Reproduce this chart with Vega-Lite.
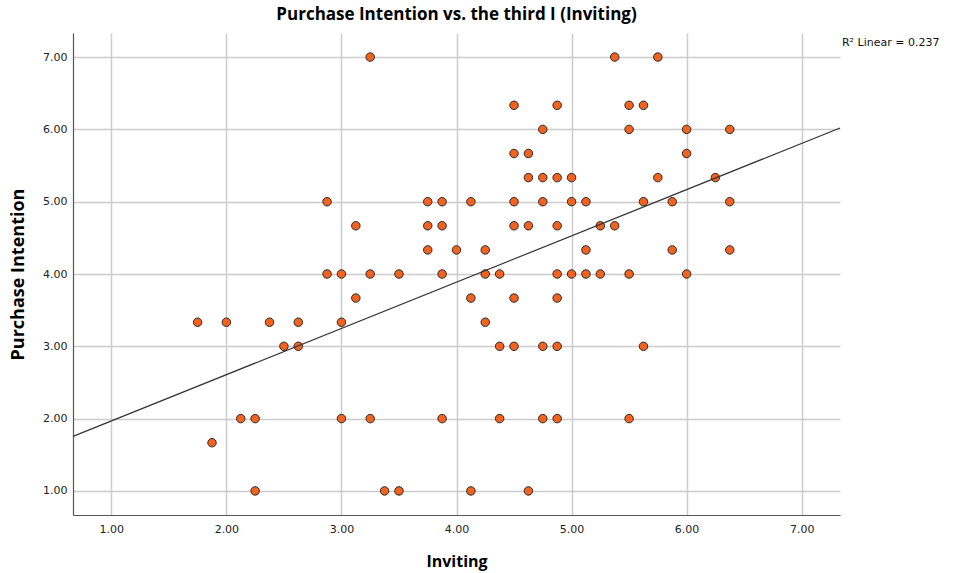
{
  "$schema": "https://vega.github.io/schema/vega-lite/v6.json",
  "width": 767,
  "height": 482,
  "autosize": "none",
  "padding": {"left": 73, "top": 33, "right": 113, "bottom": 58},
  "background": "white",
  "title": {"text": "Purchase Intention vs. the third I (Inviting)", "font": "Open Sans", "fontSize": 17, "fontWeight": "bold", "color": "#000000", "anchor": "middle", "offset": 9},
  "config": {
    "view": {"stroke": null},
    "axis": {"labelFont": "DejaVu Sans", "labelFontSize": 11, "labelColor": "#222222", "titleFont": "Open Sans", "titleFontSize": 16, "titleFontWeight": "bold", "titleColor": "#000000", "grid": true, "gridColor": "#cccccc", "gridWidth": 1.5, "ticks": false, "domainColor": "#555555", "domainWidth": 1.2}
  },
  "datasets": {
    "points": [
      {"inviting": 3.25, "purchase": 7}, {"inviting": 5.375, "purchase": 7}, {"inviting": 5.75, "purchase": 7},
      {"inviting": 4.5, "purchase": 6.333}, {"inviting": 4.875, "purchase": 6.333}, {"inviting": 5.5, "purchase": 6.333}, {"inviting": 5.625, "purchase": 6.333},
      {"inviting": 4.75, "purchase": 6}, {"inviting": 5.5, "purchase": 6}, {"inviting": 6.0, "purchase": 6}, {"inviting": 6.375, "purchase": 6},
      {"inviting": 4.5, "purchase": 5.667}, {"inviting": 4.625, "purchase": 5.667}, {"inviting": 6.0, "purchase": 5.667},
      {"inviting": 4.625, "purchase": 5.333}, {"inviting": 4.75, "purchase": 5.333}, {"inviting": 4.875, "purchase": 5.333}, {"inviting": 5.0, "purchase": 5.333}, {"inviting": 5.75, "purchase": 5.333}, {"inviting": 6.25, "purchase": 5.333},
      {"inviting": 2.875, "purchase": 5}, {"inviting": 3.75, "purchase": 5}, {"inviting": 3.875, "purchase": 5}, {"inviting": 4.125, "purchase": 5}, {"inviting": 4.5, "purchase": 5}, {"inviting": 4.75, "purchase": 5}, {"inviting": 5.0, "purchase": 5}, {"inviting": 5.125, "purchase": 5}, {"inviting": 5.625, "purchase": 5}, {"inviting": 5.875, "purchase": 5}, {"inviting": 6.375, "purchase": 5},
      {"inviting": 3.125, "purchase": 4.667}, {"inviting": 3.75, "purchase": 4.667}, {"inviting": 3.875, "purchase": 4.667}, {"inviting": 4.5, "purchase": 4.667}, {"inviting": 4.625, "purchase": 4.667}, {"inviting": 4.875, "purchase": 4.667}, {"inviting": 5.25, "purchase": 4.667}, {"inviting": 5.375, "purchase": 4.667},
      {"inviting": 3.75, "purchase": 4.333}, {"inviting": 4.0, "purchase": 4.333}, {"inviting": 4.25, "purchase": 4.333}, {"inviting": 5.125, "purchase": 4.333}, {"inviting": 5.875, "purchase": 4.333}, {"inviting": 6.375, "purchase": 4.333},
      {"inviting": 2.875, "purchase": 4}, {"inviting": 3.0, "purchase": 4}, {"inviting": 3.25, "purchase": 4}, {"inviting": 3.5, "purchase": 4}, {"inviting": 3.875, "purchase": 4}, {"inviting": 4.25, "purchase": 4}, {"inviting": 4.375, "purchase": 4}, {"inviting": 4.875, "purchase": 4}, {"inviting": 5.0, "purchase": 4}, {"inviting": 5.125, "purchase": 4}, {"inviting": 5.25, "purchase": 4}, {"inviting": 5.5, "purchase": 4}, {"inviting": 6.0, "purchase": 4},
      {"inviting": 3.125, "purchase": 3.667}, {"inviting": 4.125, "purchase": 3.667}, {"inviting": 4.5, "purchase": 3.667}, {"inviting": 4.875, "purchase": 3.667},
      {"inviting": 1.75, "purchase": 3.333}, {"inviting": 2.0, "purchase": 3.333}, {"inviting": 2.375, "purchase": 3.333}, {"inviting": 2.625, "purchase": 3.333}, {"inviting": 3.0, "purchase": 3.333}, {"inviting": 4.25, "purchase": 3.333},
      {"inviting": 2.5, "purchase": 3}, {"inviting": 2.625, "purchase": 3}, {"inviting": 4.375, "purchase": 3}, {"inviting": 4.5, "purchase": 3}, {"inviting": 4.75, "purchase": 3}, {"inviting": 4.875, "purchase": 3}, {"inviting": 5.625, "purchase": 3},
      {"inviting": 2.125, "purchase": 2}, {"inviting": 2.25, "purchase": 2}, {"inviting": 3.0, "purchase": 2}, {"inviting": 3.25, "purchase": 2}, {"inviting": 3.875, "purchase": 2}, {"inviting": 4.375, "purchase": 2}, {"inviting": 4.75, "purchase": 2}, {"inviting": 4.875, "purchase": 2}, {"inviting": 5.5, "purchase": 2},
      {"inviting": 1.875, "purchase": 1.667},
      {"inviting": 2.25, "purchase": 1}, {"inviting": 3.375, "purchase": 1}, {"inviting": 3.5, "purchase": 1}, {"inviting": 4.125, "purchase": 1}, {"inviting": 4.625, "purchase": 1}
    ],
    "fit": [
      {"inviting": 0.667, "purchase": 1.755},
      {"inviting": 7.333, "purchase": 6.02}
    ],
    "note": [
      {"inviting": 7.35, "purchase": 7.19, "label": "R² Linear = 0.237"}
    ]
  },
  "layer": [
    {
      "data": {"name": "points"},
      "mark": {"type": "circle", "size": 72, "fill": "#f3621f", "stroke": "#2a2a2a", "strokeWidth": 1, "opacity": 1},
      "encoding": {
        "x": {"field": "inviting", "type": "quantitative", "title": "Inviting",
              "scale": {"domain": [0.667, 7.333], "nice": false, "zero": false},
              "axis": {"values": [1, 2, 3, 4, 5, 6, 7], "format": ".2f", "labelPadding": 8, "titlePadding": 19}},
        "y": {"field": "purchase", "type": "quantitative", "title": "Purchase Intention",
              "scale": {"domain": [0.667, 7.333], "nice": false, "zero": false},
              "axis": {"values": [1, 2, 3, 4, 5, 6, 7], "format": ".2f", "labelPadding": 6, "titlePadding": 15, "titleFontSize": 18}}
      }
    },
    {
      "data": {"name": "fit"},
      "mark": {"type": "line", "color": "#333333", "strokeWidth": 1.2},
      "encoding": {
        "x": {"field": "inviting", "type": "quantitative"},
        "y": {"field": "purchase", "type": "quantitative"}
      }
    },
    {
      "data": {"name": "note"},
      "mark": {"type": "text", "align": "left", "baseline": "middle", "font": "DejaVu Sans", "fontSize": 11, "color": "#111111"},
      "encoding": {
        "x": {"field": "inviting", "type": "quantitative"},
        "y": {"field": "purchase", "type": "quantitative"},
        "text": {"field": "label"}
      }
    }
  ]
}
